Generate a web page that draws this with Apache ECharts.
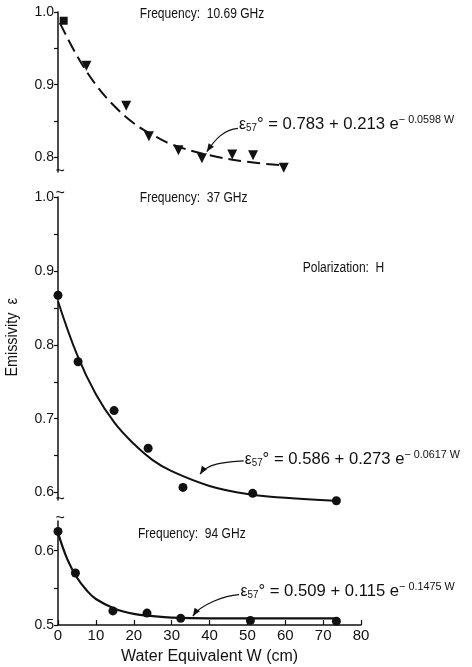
<!DOCTYPE html>
<html>
<head>
<meta charset="utf-8">
<script src="https://cdn.jsdelivr.net/npm/echarts@6/dist/echarts.min.js"></script>
<style>
html,body{margin:0;padding:0;background:#fff;}
#c{width:472px;height:667px;}
</style>
</head>
<body>
<div id="c"></div>
<script>
// ---- data ----
const xTicks = [0, 10, 20, 30, 40, 50, 60, 70, 80];

// 10.69 GHz
const f1SquareW = [1.5];
const f1SquareE = [0.988];
const f1TriW = [7.5, 18, 24, 31.8, 38, 46, 51.5, 59.6];
const f1TriE = [0.926, 0.871, 0.829, 0.810, 0.799, 0.804, 0.803, 0.786];
const f1CurveW = [0.5, 5, 10, 15, 20, 25, 30, 40, 50, 60];
const f1CurveE = [0.985, 0.940, 0.900, 0.870, 0.847, 0.831, 0.818, 0.803, 0.794, 0.789];

// 37 GHz
const f2PtW = [0, 5.3, 14.8, 23.8, 33, 51.4, 73.5];
const f2PtE = [0.867, 0.777, 0.711, 0.660, 0.607, 0.599, 0.589];
const f2CurveW = [0, 5, 10, 15, 20, 25, 30, 40, 50, 60, 73];
const f2CurveE = [0.859, 0.787, 0.733, 0.694, 0.666, 0.644, 0.629, 0.609, 0.598, 0.593, 0.589];

// 94 GHz
const f3PtW = [0, 4.6, 14.5, 23.5, 32.4, 50.8, 73.5];
const f3PtE = [0.626, 0.570, 0.519, 0.516, 0.509, 0.506, 0.505];
const f3CurveW = [0, 2.5, 5, 7.5, 10, 15, 20, 25, 30, 40, 50, 60, 73];
const f3CurveE = [0.624, 0.588, 0.564, 0.547, 0.535, 0.522, 0.515, 0.512, 0.510, 0.509, 0.509, 0.509, 0.509];

const yLabelsTop = [0.8, 0.9, 1.0];
const yTicksTop = [0.8, 0.85, 0.9, 0.95, 1.0];
const yLabelsMid = [0.6, 0.7, 0.8, 0.9, 1.0];
const yTicksMid = [0.6, 0.65, 0.7, 0.75, 0.8, 0.85, 0.9, 0.95, 1.0];
const yLabelsBot = [0.5, 0.6];
const yTicksBot = [0.5, 0.55, 0.6];

// ---- helpers ----
const zip = (a, b) => a.map((v, i) => [v, b[i]]);
const FONT = '"Liberation Sans Narrow", "Liberation Sans", Roboto, sans-serif';
const INK = '#111';

function yAx(idx, min, max, labels, ticks) {
  return {
    gridIndex: idx, type: 'value', min: min, max: max,
    axisLine: {show: true, lineStyle: {color: INK, width: 1.5}},
    axisTick: {show: true, length: 4, customValues: ticks, lineStyle: {color: INK, width: 1.2}},
    axisLabel: {show: true, customValues: labels, color: INK, fontFamily: FONT, fontSize: 14, margin: 4,
      formatter: v => v.toFixed(1)},
    splitLine: {show: false}
  };
}
function xAx(idx, show) {
  return {
    gridIndex: idx, type: 'value', min: 0, max: 80, interval: 10,
    show: show,
    axisLine: {show: show, onZero: false, lineStyle: {color: INK, width: 1.5}},
    axisTick: {show: show, inside: true, length: 5, lineStyle: {color: INK, width: 1.2}},
    axisLabel: {show: show, color: INK, fontFamily: FONT, fontSize: 15, margin: 3},
    splitLine: {show: false},
    name: show ? 'Water Equivalent W (cm)' : '',
    nameLocation: 'middle', nameGap: 24,
    nameTextStyle: {color: INK, fontFamily: FONT, fontSize: 16}
  };
}

const chart = echarts.init(document.getElementById('c'), null, {renderer: 'canvas'});

const eqRich = {
  m: {fontFamily: FONT, fontSize: 17, color: INK, lineHeight: 22, verticalAlign: 'middle'},
  e: {fontFamily: FONT, fontSize: 16, color: INK, lineHeight: 22, verticalAlign: 'middle'},
  sub: {fontFamily: FONT, fontSize: 10, color: INK, lineHeight: 22, verticalAlign: 'bottom', padding: [0, 0, 2, 0]},
  sup: {fontFamily: FONT, fontSize: 11, color: INK, lineHeight: 22, verticalAlign: 'top', padding: [1, 0, 0, 0]}
};
function eq(a, b, c) {
  return '{e|ε}{sub|57}{m|° = ' + a + ' + ' + b + ' e}{sup|− ' + c + ' W}';
}

const pt = {color: INK, opacity: 1};
chart.setOption({
  animation: false,
  backgroundColor: '#fff',
  grid: [
    {left: 58, width: 303, top: 12, height: 160},
    {left: 58, width: 303, top: 197, height: 303},
    {left: 58, width: 303, top: 521, height: 104}
  ],
  xAxis: [xAx(0, false), xAx(1, false), xAx(2, true)],
  yAxis: [
    yAx(0, 0.78, 1.0, yLabelsTop, yTicksTop),
    yAx(1, 0.59, 1.0, yLabelsMid, yTicksMid),
    yAx(2, 0.5, 0.64, yLabelsBot, yTicksBot)
  ],
  series: [
    {type: 'line', xAxisIndex: 0, yAxisIndex: 0, data: zip(f1CurveW, f1CurveE), smooth: 0.4, showSymbol: false, clip: false,
      lineStyle: {color: INK, width: 2, type: [13, 6]}, z: 2},
    {type: 'scatter', xAxisIndex: 0, yAxisIndex: 0, data: zip(f1TriW, f1TriE), symbol: 'triangle', symbolRotate: 180,
      symbolSize: 10, itemStyle: pt, clip: false, z: 3},
    {type: 'scatter', xAxisIndex: 0, yAxisIndex: 0, data: zip(f1SquareW, f1SquareE), symbol: 'rect',
      symbolSize: 8, itemStyle: pt, clip: false, z: 3},
    {type: 'line', xAxisIndex: 1, yAxisIndex: 1, data: zip(f2CurveW, f2CurveE), smooth: 0.4, showSymbol: false, clip: false,
      lineStyle: {color: INK, width: 2}, z: 2},
    {type: 'scatter', xAxisIndex: 1, yAxisIndex: 1, data: zip(f2PtW, f2PtE), symbol: 'circle',
      symbolSize: 9, itemStyle: pt, clip: false, z: 3},
    {type: 'line', xAxisIndex: 2, yAxisIndex: 2, data: zip(f3CurveW, f3CurveE), smooth: 0.4, showSymbol: false, clip: false,
      lineStyle: {color: INK, width: 2.2}, z: 2},
    {type: 'scatter', xAxisIndex: 2, yAxisIndex: 2, data: zip(f3PtW, f3PtE), symbol: 'circle',
      symbolSize: 9, itemStyle: pt, clip: false, z: 3}
  ]
});

// ---- annotations, anchored in data coordinates ----
function px(grid, w, e) { return chart.convertToPixel({gridIndex: grid}, [w, e]); }
const gfx = [];
function label(grid, w, e, txt) {
  const p = px(grid, w, e);
  gfx.push({type: 'text', x: p[0], y: p[1], scaleX: 0.86,
    style: {text: txt, verticalAlign: 'middle', fontFamily: FONT, fontSize: 14, fill: INK}});
}
function equation(grid, w, e, txt) {
  const p = px(grid, w, e);
  gfx.push({type: 'text', x: p[0], y: p[1], scaleX: 0.98,
    style: {text: txt, rich: eqRich, verticalAlign: 'middle', fill: INK}});
}
function arrow(grid, from, to) {
  const a = px(grid, from[0], from[1]);
  const b = px(grid, to[0], to[1]);
  const c1 = [a[0] - 14, a[1] + 1];
  const c2 = [b[0] + 8, b[1] - 12];
  gfx.push({type: 'bezierCurve', shape: {x1: a[0], y1: a[1], x2: b[0], y2: b[1], cpx1: c1[0], cpy1: c1[1], cpx2: c2[0], cpy2: c2[1]},
    style: {stroke: INK, lineWidth: 1.2, fill: null}});
  const ang = Math.atan2(b[1] - c2[1], b[0] - c2[0]);
  const L = 8, W = 3.2;
  const bx = b[0] - L * Math.cos(ang), by = b[1] - L * Math.sin(ang);
  gfx.push({type: 'polygon', shape: {points: [
    [b[0], b[1]],
    [bx + W * Math.sin(ang), by - W * Math.cos(ang)],
    [bx - W * Math.sin(ang), by + W * Math.cos(ang)]
  ]}, style: {fill: INK}});
}
function breakMark(grid, w, e, dy) {
  const p = px(grid, w, e);
  gfx.push({type: 'text', x: p[0], y: p[1] + dy, style: {text: '~', fontFamily: FONT, fontSize: 16, fill: INK, align: 'center', verticalAlign: 'middle'}});
}

label(0, 21.6, 0.997, 'Frequency:  10.69 GHz');
label(1, 21.6, 0.999, 'Frequency:  37 GHz');
label(1, 64.6, 0.904, 'Polarization:  H');
label(2, 21.1, 0.622, 'Frequency:  94 GHz');

equation(0, 47.8, 0.845, eq('0.783', '0.213', '0.0598'));
equation(1, 49.3, 0.645, eq('0.586', '0.273', '0.0617'));
equation(2, 48.2, 0.545, eq('0.509', '0.115', '0.1475'));

arrow(0, [47.5, 0.840], [39.3, 0.808]);
arrow(1, [49.0, 0.643], [37.5, 0.625]);
arrow(2, [47.8, 0.541], [35.6, 0.512]);

breakMark(0, 0.6, 0.78, 0);
breakMark(1, 0.6, 1.0, -3);
breakMark(1, 0.6, 0.59, 0);
breakMark(2, 0.6, 0.64, -2);

const mid = px(1, 0, 0.81);
gfx.push({type: 'text', x: 13, y: mid[1], rotation: Math.PI / 2, scaleX: 0.9,
  style: {text: 'Emissivity  ε', fontFamily: FONT, fontSize: 16, fill: INK, align: 'center', verticalAlign: 'middle'}});

chart.setOption({graphic: gfx});
</script>
</body>
</html>
